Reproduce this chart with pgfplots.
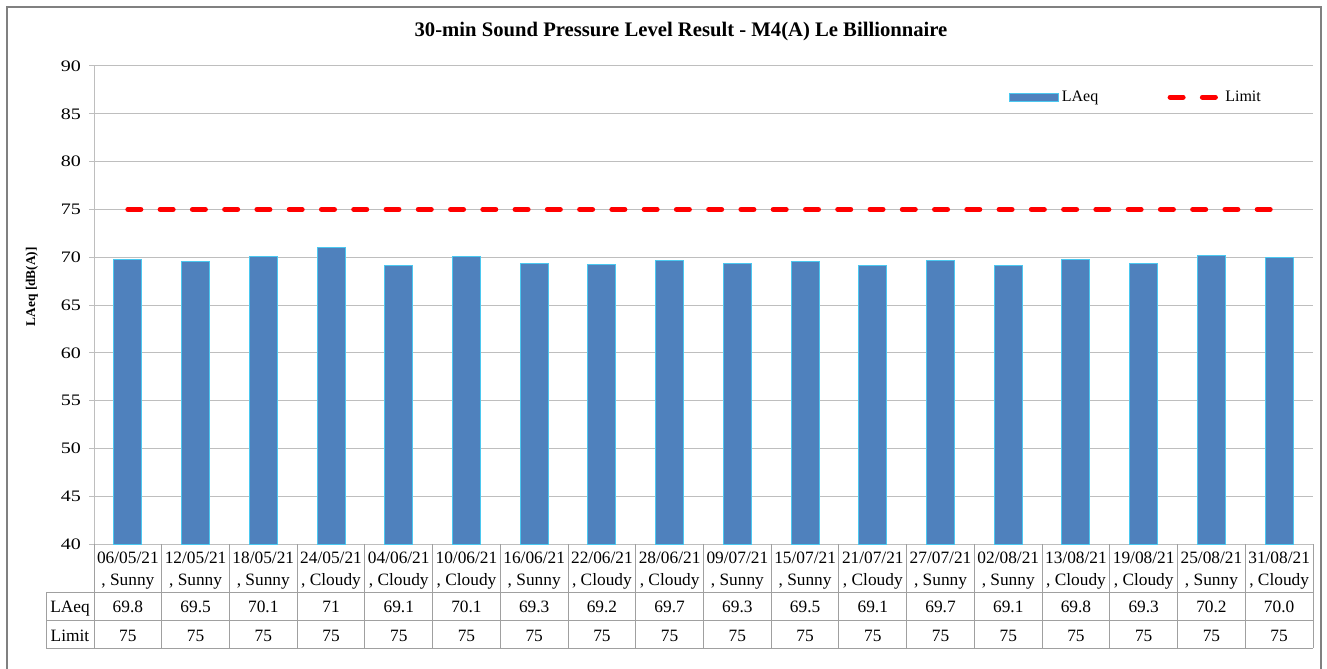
\documentclass[border=0pt]{standalone}
\usepackage{pgfplots}
\pgfplotsset{compat=1.18}
\usepackage{fontspec}
\setmainfont{Liberation Serif}
\newfontfamily\widefont{Liberation Serif}[FakeStretch=1.25]
\definecolor{barblue}{RGB}{79,129,189}
\definecolor{baredge}{RGB}{75,200,240}
\definecolor{gridgray}{RGB}{190,190,190}
\definecolor{tablegray}{RGB}{160,160,160}
\definecolor{framegray}{RGB}{128,128,128}
\pgfplotsset{
  barlegend/.style={legend image code/.code={\draw[fill=barblue, draw=baredge, line width=0.75pt] (0pt,-3pt) rectangle (37pt,3pt);}},
  linelegend/.style={legend image code/.code={\draw[##1] (0pt,0pt) -- (37.5pt,0pt);}},
}
\begin{document}
\begin{tikzpicture}[x=1pt,y=1pt]
\useasboundingbox (0,0) rectangle (995.25,501);
\fill[white] (0,0) rectangle (995.25,501);
\draw[framegray, line width=1.5pt] (5.25,-5) rectangle (990.75,495.75);
\node[font=\fontsize{15.5}{18}\selectfont\bfseries] at (510.75,477) {30-min Sound Pressure Level Result - M4(A) Le Billionnaire};
\node[font=\fontsize{10}{12}\selectfont\bfseries, rotate=90] at (24,286) {LAeq [dB(A)]};
\begin{axis}[
  at={(70.5pt,93pt)}, anchor=south west,
  scale only axis, width=914.25pt, height=358.5pt,
  xmin=-0.5, xmax=17.5, ymin=40, ymax=90,
  ytick={40,45,...,90},
  xtick=\empty,
  axis x line*=bottom, axis y line*=left,
  axis line style={gridgray, line width=0.75pt, -},
  ymajorgrids, grid style={gridgray, line width=0.75pt},
  tick align=outside, major tick length=3.75pt,
  tick style={gridgray, line width=0.75pt},
  yticklabel style={font=\widefont\fontsize{12}{14}\selectfont, xshift=-2.5pt},
  /pgf/number format/assume math mode=true,
  legend style={at={(0.747,0.935)}, anchor=west, draw=none, fill=none,
    font=\fontsize{12}{14}\selectfont, legend columns=2,
    /tikz/every even column/.append style={column sep=50pt}},
  clip=false,
]
\addplot[ybar, bar width=21pt, fill=barblue, draw=baredge, line width=0.75pt, barlegend]
  coordinates {(0,69.8) (1,69.5) (2,70.1) (3,71.0) (4,69.1) (5,70.1) (6,69.3) (7,69.2) (8,69.7)
               (9,69.3) (10,69.5) (11,69.1) (12,69.7) (13,69.1) (14,69.8) (15,69.3) (16,70.2) (17,70.0)};
\addlegendentry{LAeq}
\addplot[red, line width=3.75pt, line cap=round, dash pattern=on 9.75pt off 14.45pt, linelegend]
  coordinates {(0,75) (1,75) (2,75) (3,75) (4,75) (5,75) (6,75) (7,75) (8,75)
               (9,75) (10,75) (11,75) (12,75) (13,75) (14,75) (15,75) (16,75) (17,75)};
\addlegendentry{Limit}
\end{axis}
% data table
\begin{scope}[tablegray, line width=0.75pt]
\draw (34.5,57) -- (984.75,57);
\draw (34.5,36) -- (984.75,36);
\draw (34.5,15) -- (984.75,15);
\draw (34.5,57) -- (34.5,15);
\foreach \i in {0,...,18} \draw (70.5+\i*50.7917,93) -- (70.5+\i*50.7917,15);
\end{scope}
\begin{scope}[every node/.style={font=\fontsize{13}{15}\selectfont, anchor=base, inner sep=0pt}]
\node at (52.5,41.5) {LAeq};
\node at (52.5,20) {Limit};
\foreach \d [count=\i from 0] in {06/05/21,12/05/21,18/05/21,24/05/21,04/06/21,10/06/21,16/06/21,22/06/21,28/06/21,09/07/21,15/07/21,21/07/21,27/07/21,02/08/21,13/08/21,19/08/21,25/08/21,31/08/21}
  \node at (70.5+\i*50.7917+25.3958,78.75) {\d};
\foreach \w [count=\i from 0] in {Sunny,Sunny,Sunny,Cloudy,Cloudy,Cloudy,Sunny,Cloudy,Cloudy,Sunny,Sunny,Cloudy,Sunny,Sunny,Cloudy,Cloudy,Sunny,Cloudy}
  \node at (70.5+\i*50.7917+25.3958,62.25) {, \w};
\foreach \v [count=\i from 0] in {69.8,69.5,70.1,71,69.1,70.1,69.3,69.2,69.7,69.3,69.5,69.1,69.7,69.1,69.8,69.3,70.2,70.0}
  \node at (70.5+\i*50.7917+25.3958,41.5) {\v};
\foreach \i in {0,...,17}
  \node at (70.5+\i*50.7917+25.3958,20) {75};
\end{scope}
\end{tikzpicture}
\end{document}
